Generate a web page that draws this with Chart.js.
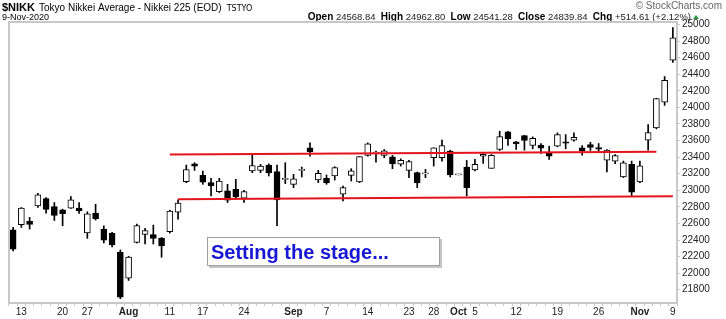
<!DOCTYPE html>
<html>
<head>
<meta charset="utf-8">
<script src="https://cdn.jsdelivr.net/npm/chart.js@4/dist/chart.umd.min.js"></script>
<style>
  html, body { margin: 0; padding: 0; background: #fff; }
  #wrap { width: 726px; height: 319px; }
</style>
</head>
<body>
<div id="wrap"><canvas id="myChart"></canvas></div>
<script>
// trading days, Tokyo Nikkei 225
const days = [
  "2020-07-10", "2020-07-13", "2020-07-14", "2020-07-15", "2020-07-16", "2020-07-17",
  "2020-07-20", "2020-07-21", "2020-07-22", "2020-07-27", "2020-07-28", "2020-07-29",
  "2020-07-30", "2020-07-31", "2020-08-03", "2020-08-04", "2020-08-05", "2020-08-06",
  "2020-08-07", "2020-08-11", "2020-08-12", "2020-08-13", "2020-08-14", "2020-08-17",
  "2020-08-18", "2020-08-19", "2020-08-20", "2020-08-21", "2020-08-24", "2020-08-25",
  "2020-08-26", "2020-08-27", "2020-08-28", "2020-08-31", "2020-09-01", "2020-09-02",
  "2020-09-03", "2020-09-04", "2020-09-07", "2020-09-08", "2020-09-09", "2020-09-10",
  "2020-09-11", "2020-09-14", "2020-09-15", "2020-09-16", "2020-09-17", "2020-09-18",
  "2020-09-23", "2020-09-24", "2020-09-25", "2020-09-28", "2020-09-29", "2020-09-30",
  "2020-10-01", "2020-10-02", "2020-10-05", "2020-10-06", "2020-10-07", "2020-10-08",
  "2020-10-09", "2020-10-12", "2020-10-13", "2020-10-14", "2020-10-15", "2020-10-16",
  "2020-10-19", "2020-10-20", "2020-10-21", "2020-10-22", "2020-10-23", "2020-10-26",
  "2020-10-27", "2020-10-28", "2020-10-29", "2020-10-30", "2020-11-02", "2020-11-04",
  "2020-11-05", "2020-11-06", "2020-11-09",
];
const open = [
  22524, 22584, 22624, 22812, 22900, 22804, 22764, 22784, 22784, 22484, 22724, 22532,
  22480, 22252, 21940, 22372, 22468, 22464, 22424, 22500, 22736, 23104, 23320, 23180,
  23092, 22984, 22992, 23012, 22904, 23232, 23240, 23304, 23224, 23132, 23072, 23240,
  23512, 23124, 23144, 23172, 22952, 23180, 23100, 23420, 23448, 23420, 23404, 23316,
  23240, 23212, 23198, 23392, 23392, 23472, 23185.12, 23280, 23244, 23412, 23264, 23492,
  23704, 23584, 23660, 23540, 23544, 23452, 23532, 23584, 23604, 23512, 23552, 23516,
  23364, 23352, 23160, 23312, 23100, 23604, 23752, 24064, 24568.84,
];
const high = [
  22552, 22792, 22672, 22964, 22912, 22852, 22772, 22924, 22852, 22740, 22832, 22572,
  22492, 22280, 22204, 22592, 22540, 22580, 22430, 22760, 22884, 23304, 23332, 23232,
  23144, 23144, 23072, 23132, 23000, 23424, 23312, 23320, 23304, 23332, 23192, 23280,
  23572, 23240, 23184, 23284, 23052, 23260, 23406, 23572, 23472, 23492, 23420, 23380,
  23360, 23220, 23252, 23512, 23604, 23484, 23185.12, 23360, 23372, 23440, 23432, 23712,
  23712, 23590, 23664, 23644, 23564, 23532, 23692, 23672, 23692, 23540, 23580, 23564,
  23490, 23432, 23352, 23352, 23352, 23792, 24110, 24372, 24962.80,
];
const low = [
  22267, 22552, 22532, 22792, 22724, 22636, 22572, 22780, 22720, 22420, 22640, 22364,
  22316, 21692, 21912, 22364, 22352, 22352, 22192, 22484, 22652, 23092, 23240, 23072,
  22932, 22972, 22852, 22892, 22852, 23212, 23212, 23172, 22572, 23080, 23032, 23160,
  23412, 23092, 23072, 23124, 22872, 23112, 23092, 23412, 23340, 23392, 23260, 23292,
  23152, 23032, 23152, 23292, 23352, 23160, 23185.12, 22932, 23232, 23324, 23264, 23480,
  23540, 23492, 23484, 23500, 23444, 23372, 23524, 23500, 23592, 23424, 23480, 23472,
  23220, 23320, 23152, 22932, 23092, 23484, 23740, 24024, 24541.28,
];
const close = [
  22290.81, 22784.74, 22587.01, 22945.50, 22770.36, 22696.42, 22717.48, 22884.22, 22751.61,
  22715.85, 22657.38, 22397.11, 22339.23, 21710.00, 22195.38, 22573.66, 22514.85, 22418.15,
  22329.94, 22750.24, 22843.96, 23249.61, 23289.36, 23096.75, 23051.08, 23110.61, 22880.62,
  22920.30, 22985.51, 23296.77, 23290.86, 23208.86, 22882.65, 23139.76, 23138.07, 23247.15,
  23465.53, 23205.43, 23089.95, 23274.13, 23032.54, 23235.47, 23406.49, 23559.30, 23454.89,
  23475.53, 23319.37, 23360.30, 23346.49, 23087.82, 23204.62, 23511.62, 23539.10, 23185.12,
  23185.12, 23029.90, 23312.14, 23433.73, 23422.82, 23647.07, 23619.69, 23558.69, 23601.78,
  23626.73, 23507.23, 23410.63, 23671.13, 23567.04, 23639.46, 23474.27, 23516.59, 23494.34,
  23485.80, 23418.51, 23331.94, 22977.13, 23295.48, 23695.23, 24105.28, 24325.23, 24839.84,
];

// x-axis tick labels
const tickDays = [
  "2020-07-13", "2020-07-20", "2020-07-27", "2020-08-03", "2020-08-11", "2020-08-17",
  "2020-08-24", "2020-09-01", "2020-09-07", "2020-09-14", "2020-09-23", "2020-09-28",
  "2020-10-01", "2020-10-05", "2020-10-12", "2020-10-19", "2020-10-26", "2020-11-02",
  "2020-11-09",
];
const tickText = ["13", "20", "27", "Aug", "11", "17", "24", "Sep", "7", "14", "23", "28",
  "Oct", "5", "12", "19", "26", "Nov", "9"];
const monthText = ["Aug", "Sep", "Oct", "Nov"];

// y-axis ticks
const yTicks = [21800, 22000, 22200, 22400, 22600, 22800, 23000, 23200, 23400,
  23600, 23800, 24000, 24200, 24400, 24600, 24800, 25000];

// hand-drawn trend lines (start day, end day, start value, end value)
const resistanceDays = ["2020-08-11", "2020-11-05"];
const resistanceVals = [23432, 23464];
const supportDays = ["2020-08-12", "2020-11-09"];
const supportVals = [22892, 22928];

const noteText = "Setting the stage...";

const FONT = "'Liberation Sans', Arial, sans-serif";

const headerPlugin = {
  id: "header",
  afterDraw(chart) {
    const c = chart.ctx;
    const a = chart.chartArea;
    c.save();
    c.textBaseline = "alphabetic";
    c.fillStyle = "#000";

    // left title
    let x = 2;
    c.font = "bold 11px " + FONT;
    c.fillText("$NIKK", x, 11);
    x += c.measureText("$NIKK").width + 4;
    c.font = "10px " + FONT;
    const t2 = "Tokyo Nikkei Average - Nikkei 225 (EOD)";
    c.fillText(t2, x, 11);
    x += c.measureText(t2).width + 5;
    c.font = "8px 'DejaVu Sans', sans-serif";
    c.fillText("TSTYO", x, 11);
    c.font = "9px " + FONT;
    c.fillText("9-Nov-2020", 2, 20);

    // right stats from the last candle
    const n = days.length - 1;
    const chg = close[n] - close[n - 1];
    const pct = chg / close[n - 1] * 100;
    const segs = [
      ["Open", true], [" " + open[n].toFixed(2) + "  ", false],
      ["High", true], [" " + high[n].toFixed(2) + "  ", false],
      ["Low", true], [" " + low[n].toFixed(2) + "  ", false],
      ["Close", true], [" " + close[n].toFixed(2) + "  ", false],
      ["Chg", true], [" +" + chg.toFixed(2) + " (+" + pct.toFixed(2) + "%)", false],
    ];
    const fonts = { true: "bold 10px " + FONT, false: "9.5px " + FONT };
    let w = 0;
    segs.forEach(s => { c.font = fonts[s[1]]; w += c.measureText(s[0]).width; });
    x = 691 - w;
    segs.forEach(s => {
      c.font = fonts[s[1]];
      c.fillStyle = s[1] ? "#000" : "#222";
      c.fillText(s[0], x, 20);
      x += c.measureText(s[0]).width;
    });
    // up arrow
    c.fillStyle = "#2a9a3a";
    c.beginPath();
    c.moveTo(x + 2, 19);
    c.lineTo(x + 8, 19);
    c.lineTo(x + 5, 15);
    c.closePath();
    c.fill();

    c.fillStyle = "#666";
    c.font = "10px " + FONT;
    c.textAlign = "right";
    c.fillText("\u00A9 StockCharts.com", 722, 9);

    // frame top and left
    c.strokeStyle = "#c8c8c8";
    c.lineWidth = 2;
    c.beginPath();
    c.moveTo(a.left, a.bottom);
    c.lineTo(a.left, a.top);
    c.lineTo(a.right, a.top);
    c.stroke();
    c.restore();
  },
};

const notePlugin = {
  id: "note",
  afterDatasetsDraw(chart) {
    const c = chart.ctx;
    const a = chart.chartArea;
    const bx = a.left + 198, by = 237, bw = 233, bh = 29;
    c.save();
    c.fillStyle = "#c4c4c4";
    c.fillRect(bx + 2, by + 2, bw, bh);
    c.fillStyle = "#fff";
    c.fillRect(bx, by, bw, bh);
    c.strokeStyle = "#a0a0a0";
    c.lineWidth = 1;
    c.strokeRect(bx + 0.5, by + 0.5, bw - 1, bh - 1);
    c.fillStyle = "#1717d4";
    c.font = "bold 20px " + FONT;
    c.textBaseline = "alphabetic";
    c.fillText(noteText, bx + 4, by + 22);
    c.restore();
  },
};

const chart = new Chart(document.getElementById("myChart").getContext("2d"), {
  type: "bar",
  data: {
    labels: days,
    datasets: [
      {
        type: "line",
        label: "resistance",
        data: resistanceDays.map((d, i) => ({ x: d, y: resistanceVals[i] })),
        borderColor: "#e3141c",
        borderWidth: 2,
        pointRadius: 0,
        order: 0,
      },
      {
        type: "line",
        label: "support",
        data: supportDays.map((d, i) => ({ x: d, y: supportVals[i] })),
        borderColor: "#e3141c",
        borderWidth: 2,
        pointRadius: 0,
        order: 0,
      },
      {
        label: "body",
        data: days.map((d, i) => [open[i], close[i]]),
        backgroundColor: days.map((d, i) => (close[i] >= open[i] ? "#fff" : "#000")),
        borderColor: "#000",
        borderWidth: 1,
        borderSkipped: false,
        barThickness: 6,
        minBarLength: 1,
        grouped: false,
        order: 1,
      },
      {
        label: "wick",
        data: days.map((d, i) => [low[i], high[i]]),
        backgroundColor: "#000",
        barThickness: 1,
        grouped: false,
        order: 2,
      },
    ],
  },
  options: {
    responsive: true,
    maintainAspectRatio: false,
    animation: false,
    layout: { padding: { top: 22, left: 9, right: 0, bottom: 0 } },
    plugins: {
      legend: { display: false },
      tooltip: { enabled: false },
    },
    scales: {
      x: {
        offset: true,
        grid: { display: true, drawOnChartArea: false, tickLength: 3, color: "#c8c8c8" },
        border: { color: "#c8c8c8", width: 2 },
        ticks: {
          autoSkip: false,
          maxRotation: 0,
          padding: 0,
          color: "#222",
          font: (ctx) => ({
            family: FONT,
            size: 10,
            weight: ctx.tick && monthText.includes(ctx.tick.label) ? "bold" : "normal",
          }),
          callback: (v, i) => {
            const k = tickDays.indexOf(days[i]);
            return k >= 0 ? tickText[k] : "";
          },
        },
        afterFit: (s) => { s.height = 16; },
      },
      y: {
        position: "right",
        min: 21640,
        max: 25030,
        grid: { drawOnChartArea: false, tickLength: 3, color: "#c8c8c8" },
        border: { color: "#c8c8c8", width: 2 },
        afterBuildTicks: (s) => { s.ticks = yTicks.map(v => ({ value: v })); },
        ticks: {
          autoSkip: false,
          padding: 2,
          color: "#222",
          font: { family: FONT, size: 10 },
          callback: (v) => String(v),
        },
        afterFit: (s) => { s.width = 49; },
      },
    },
  },
  plugins: [headerPlugin, notePlugin],
});
</script>
</body>
</html>
